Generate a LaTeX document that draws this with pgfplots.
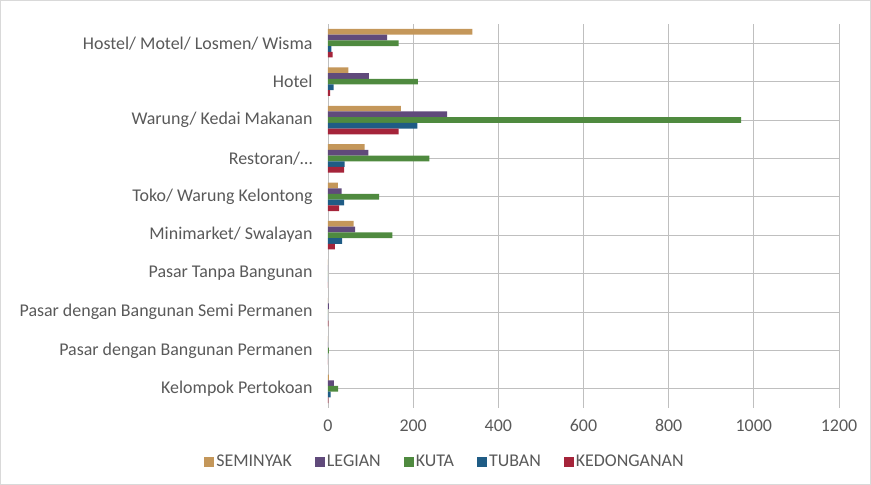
\documentclass[border=0pt]{standalone}
\usepackage{pgfplots}
\pgfplotsset{compat=1.18}
\usepackage{fontspec}
\setmainfont{Carlito}
\definecolor{cSem}{HTML}{C4975A}
\definecolor{cLeg}{HTML}{604A7B}
\definecolor{cKuta}{HTML}{4F8A3F}
\definecolor{cTub}{HTML}{1F5C85}
\definecolor{cKed}{HTML}{A5243A}
\definecolor{txt}{HTML}{595959}
\definecolor{grid}{HTML}{D9D9D9}
\begin{document}
\begin{tikzpicture}
\useasboundingbox (-328bp,-77bp) rectangle (543bp,408bp);
\draw[grid, line width=0.8bp] (-327.5bp,-76.5bp) rectangle (542.5bp,407.5bp);
\begin{axis}[
  at={(0,0)}, anchor=south west,
  scale only axis, width=511bp, height=384bp,
  xbar=0pt, bar width=5.7bp,
  xmin=0, xmax=1200,
  ymin=-0.5, ymax=9.5, y dir=reverse,
  ytick={0,1,2,3,4,5,6,7,8,9},
  yticklabels={{Hostel/ Motel/ Losmen/ Wisma}, {Hotel}, {Warung/ Kedai Makanan}, {Restoran/\ldots}, {Toko/ Warung Kelontong}, {Minimarket/ Swalayan}, {Pasar Tanpa Bangunan}, {Pasar dengan Bangunan Semi Permanen}, {Pasar dengan Bangunan Permanen}, {Kelompok Pertokoan}},
  xtick={0,200,400,600,800,1000,1200},
  axis line style={draw=none},
  major tick length=0pt,
  xmajorgrids, grid style={grid, line width=0.9bp},
  ticklabel style={font=\fontsize{18}{20}\selectfont, text=txt},
  /pgf/number format/assume math mode=true,
  /pgf/number format/1000 sep={},
  yticklabel style={xshift=-12bp},
  xticklabel style={yshift=-8bp},
  legend columns=-1,
  legend style={at={(0.229,-0.140)}, anchor=center, draw=none, font=\fontsize{18}{20}\selectfont, text=txt, column sep=0bp,
    nodes={inner sep=2bp},
    /tikz/every even column/.append style={column sep=21bp}},
  legend image code/.code={\fill[#1] (0bp,-5bp) rectangle (10bp,5bp);},
]
\addplot[fill=cSem, draw=none, bar shift=11.4bp] coordinates {(339,0) (48,1) (171,2) (86,3) (23,4) (60,5) (0,6) (0,7) (0,8) (2,9)};
\addplot[fill=cLeg, draw=none, bar shift=5.7bp] coordinates {(139,0) (96,1) (280,2) (95,3) (32,4) (64,5) (0,6) (2,7) (0,8) (14,9)};
\addplot[fill=cKuta, draw=none, bar shift=0bp] coordinates {(166,0) (211,1) (970,2) (238,3) (120,4) (151,5) (0,6) (0,7) (2,8) (24,9)};
\addplot[fill=cTub, draw=none, bar shift=-5.7bp] coordinates {(8,0) (13,1) (210,2) (39,3) (38,4) (33,5) (0,6) (0,7) (0,8) (6,9)};
\addplot[fill=cKed, draw=none, bar shift=-11.4bp] coordinates {(11,0) (5,1) (166,2) (38,3) (26,4) (16,5) (0,6) (1,7) (0,8) (1,9)};
\legend{SEMINYAK, LEGIAN, KUTA, TUBAN, KEDONGANAN}
\end{axis}
\end{tikzpicture}
\end{document}
